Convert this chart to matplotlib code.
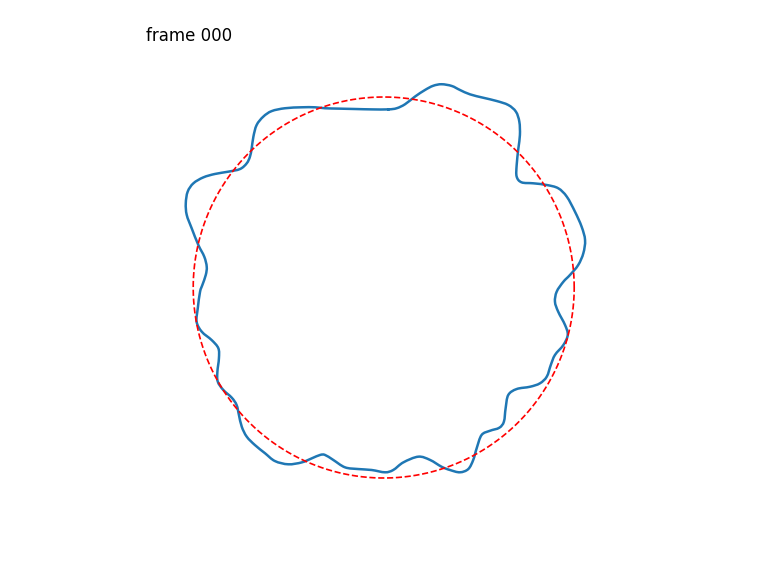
import numpy as np
import matplotlib
matplotlib.use("Agg")
import matplotlib.pyplot as plt
from matplotlib.path import Path
from matplotlib.patches import PathPatch

# Wobbly closed curve, in units of the reference circle radius
curve_x = [0.024, -0.063, -0.151, -0.238, -0.308, -0.361, -0.430, -0.518, -0.588, -0.632,
           -0.667, -0.684, -0.693, -0.702, -0.719, -0.754, -0.816, -0.886, -0.947, -0.999,
           -1.029, -1.039, -1.034, -1.008, -0.973, -0.942, -0.929, -0.934, -0.952, -0.964,
           -0.976, -0.982, -0.955, -0.903, -0.868, -0.865, -0.873, -0.871, -0.842, -0.798,
           -0.772, -0.760, -0.745, -0.719, -0.676, -0.623, -0.571, -0.501, -0.430, -0.378,
           -0.334, -0.308, -0.265, -0.203, -0.133, -0.063, 0.007, 0.050, 0.103, 0.182,
           0.243, 0.304, 0.348, 0.400, 0.444, 0.470, 0.488, 0.514, 0.558, 0.607,
           0.631, 0.640, 0.654, 0.698, 0.768, 0.820, 0.856, 0.877, 0.899, 0.943,
           0.966, 0.952, 0.916, 0.899, 0.908, 0.943, 0.978, 1.021, 1.048, 1.057,
           1.039, 1.004, 0.961, 0.916, 0.856, 0.785, 0.724, 0.698, 0.698, 0.707,
           0.715, 0.712, 0.694, 0.654, 0.593, 0.523, 0.453, 0.400, 0.357, 0.304,
           0.260, 0.217, 0.164, 0.112, 0.068]
curve_y = [0.935, 0.935, 0.937, 0.939, 0.941, 0.946, 0.946, 0.941, 0.926, 0.897,
           0.853, 0.792, 0.731, 0.687, 0.652, 0.622, 0.608, 0.596, 0.578, 0.547,
           0.503, 0.442, 0.381, 0.311, 0.223, 0.162, 0.109, 0.066, 0.013, -0.022,
           -0.109, -0.180, -0.232, -0.276, -0.319, -0.372, -0.442, -0.494, -0.538, -0.578,
           -0.617, -0.669, -0.731, -0.783, -0.827, -0.870, -0.911, -0.928, -0.918, -0.897,
           -0.879, -0.879, -0.905, -0.944, -0.953, -0.958, -0.970, -0.958, -0.918, -0.888,
           -0.905, -0.941, -0.958, -0.970, -0.953, -0.905, -0.844, -0.774, -0.752, -0.736,
           -0.704, -0.634, -0.564, -0.533, -0.521, -0.503, -0.468, -0.407, -0.354, -0.302,
           -0.249, -0.197, -0.127, -0.075, -0.022, 0.030, 0.066, 0.118, 0.180, 0.249,
           0.319, 0.398, 0.477, 0.521, 0.538, 0.547, 0.552, 0.582, 0.643, 0.731,
           0.800, 0.870, 0.923, 0.958, 0.979, 0.996, 1.014, 1.037, 1.058, 1.067,
           1.059, 1.037, 1.002, 0.962, 0.941]

circle_radius = 1.0
frame_label = "frame 000"

fig = plt.figure(figsize=(6.4, 4.8), dpi=120)
ax = fig.add_axes([0, 0, 1, 1])
ax.set_xlim(-2.0142, 2.0173)
ax.set_ylim(-1.5144, 1.5092)
ax.axis("off")

theta = np.linspace(0, 2 * np.pi, 400)
ax.plot(circle_radius * np.cos(theta), circle_radius * np.sin(theta),
        color="red", linestyle="--", linewidth=1.0)

# Smooth closed path through the read points (Catmull-Rom drawn as cubic Bezier segments)
pts = np.column_stack([curve_x, curve_y])
n = len(pts)
verts = [pts[0]]
codes = [Path.MOVETO]
for i in range(n):
    p0 = pts[(i - 1) % n]
    p1 = pts[i]
    p2 = pts[(i + 1) % n]
    p3 = pts[(i + 2) % n]
    c1 = p1 + (p2 - p0) / 6.0
    c2 = p2 - (p3 - p1) / 6.0
    verts.extend([c1, c2, p2])
    codes.extend([Path.CURVE4, Path.CURVE4, Path.CURVE4])
ax.add_patch(PathPatch(Path(verts, codes), facecolor="none",
                       edgecolor="#1f77b4", linewidth=1.5, capstyle="projecting",
                       joinstyle="round"))

fig.text(0.1895, 0.9288, frame_label, fontsize=10, ha="left", va="baseline")

fig.savefig("out.png", dpi=120)
